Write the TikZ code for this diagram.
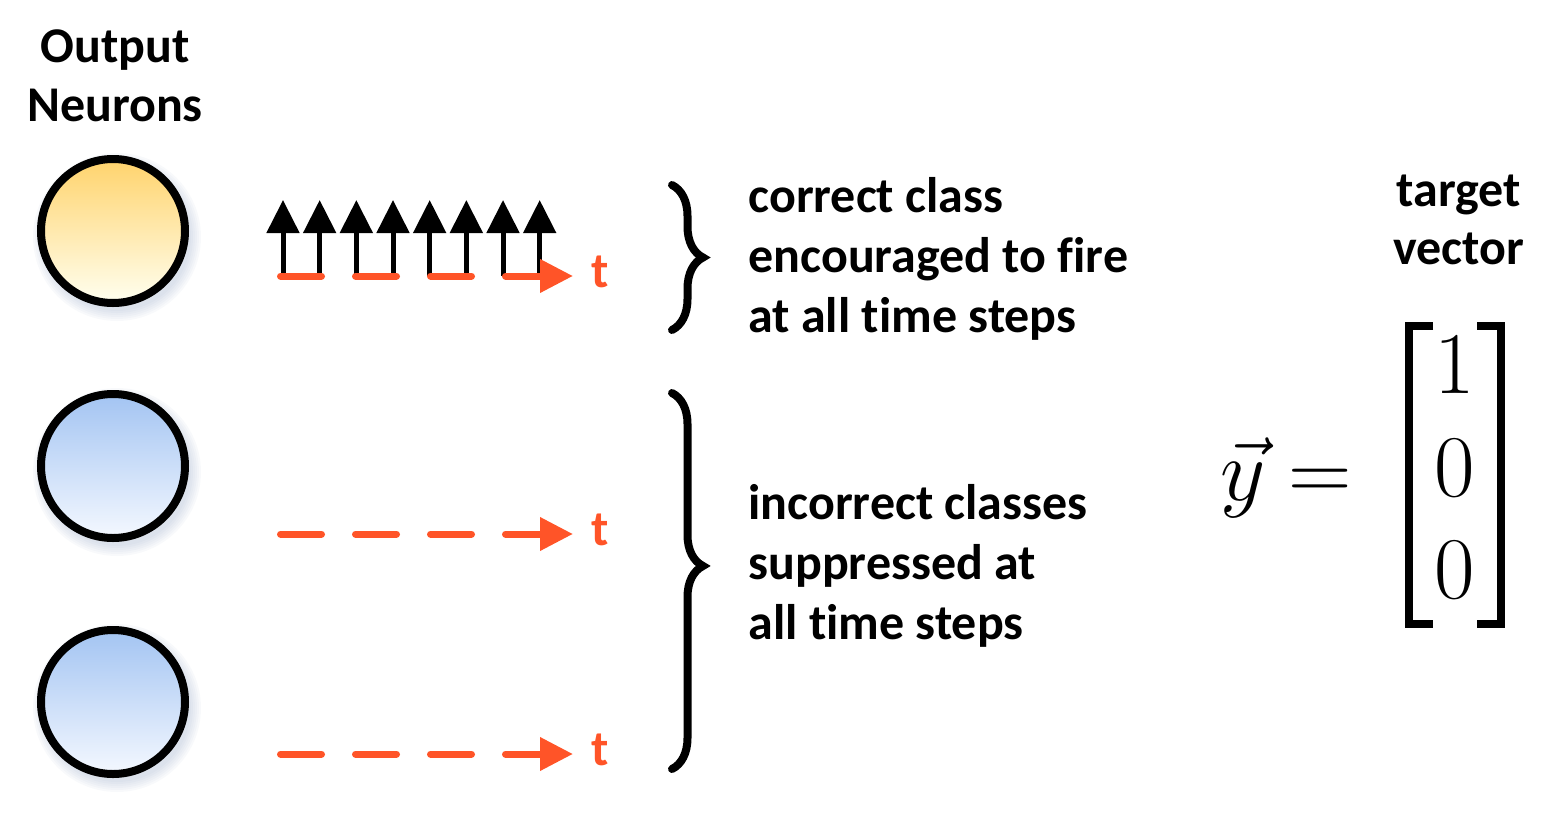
\RequirePackage{fix-cm}
\documentclass[tikz,border=0pt]{standalone}
\usepackage[no-math]{fontspec}
\setmainfont[Ligatures=NoCommon]{Carlito}
\usetikzlibrary{arrows.meta,decorations.pathreplacing}
\definecolor{spike}{HTML}{FF5428}
\definecolor{fireTop}{HTML}{FFD36C}
\definecolor{fireBot}{HTML}{FFFFF0}
\definecolor{coldTop}{HTML}{A3C4F2}
\definecolor{coldBot}{HTML}{F4F8FF}
\definecolor{glow}{HTML}{7F93B8}

\begin{document}
\begin{tikzpicture}[x=0.5pt,y=-0.5pt,
    lbl/.style={font=\fontsize{25}{30}\selectfont\bfseries, inner sep=0pt},
    neuron/.style={circle, draw=black, line width=4pt, minimum size=72pt, inner sep=0pt, shading angle=20},
    spk/.style={line width=2.5pt, -{Triangle[width=16pt,length=16.5pt]}},
    timeline/.style={spike, line width=3.5pt, line cap=round, dash pattern=on 20.5pt off 17pt,
        -{Triangle[width=16pt,length=16.5pt]}},
    brc/.style={decorate, line width=4pt, line cap=round},
    eq/.style={font=\fontsize{44}{50}\selectfont, inner sep=0pt}]

    \useasboundingbox (0,0) rectangle (1559,831);

    % output neurons (soft shadow first)
    \foreach \name/\yy/\col in {n1/231/fire, n2/466/cold, n3/702/cold} {
        \foreach \k in {0,...,5}
            \fill[glow, opacity=0.05] (117,\yy+6) circle ({37pt+\k*1pt});
        \node[neuron, top color=\col Top, bottom color=\col Bot] (\name) at (113,\yy) {};
    }
    \node[lbl, anchor=base] (hd1) at (115,62) {Output};
    \node[lbl, anchor=base] (hd2) at (115,121) {Neurons};

    % spikes of the correct class
    \foreach \i in {0,...,7}
        \draw[spk] (283+36.67*\i,276) -- ++(0,-76);

    % time axes
    \foreach \row/\yy in {1/276, 2/534, 3/754} {
        \coordinate (s\row) at (280.5,\yy);
        \coordinate (e\row) at (573,\yy);
        \draw[timeline] (s\row) -- (e\row);
        \node[lbl, text=spike, anchor=base west] (t\row) at (591,\yy+11) {t};
    }

    % braces
    \coordinate (b1a) at (672,185);
    \coordinate (b1b) at (672,330);
    \coordinate (b2a) at (672,393);
    \coordinate (b2b) at (672,769);
    \draw[brc, decoration={brace, amplitude=15.5pt}] (b1a) -- (b1b);
    \draw[brc, decoration={brace, amplitude=15.5pt, aspect=0.46}] (b2a) -- (b2b);

    \node[lbl, anchor=base west] (c1) at (748,212) {correct class};
    \node[lbl, anchor=base west] (c2) at (748,272) {encouraged to fire};
    \node[lbl, anchor=base west] (c3) at (748,332) {at all time steps};
    \node[lbl, anchor=base west] (w1) at (748,519) {incorrect classes};
    \node[lbl, anchor=base west] (w2) at (748,579) {suppressed at};
    \node[lbl, anchor=base west] (w3) at (748,639) {all time steps};

    % target vector
    \node[lbl, anchor=base] (tg1) at (1459,206) {target};
    \node[lbl, anchor=base] (tg2) at (1459,264) {vector};
    \node[eq, anchor=base] (vy) at (1243,500) {$\vec{y}$};
    \node[eq, anchor=base] (eqs) at (1320,500) {$=$};
    \node[eq, anchor=base] (m1) at (1455,393) {$1$};
    \node[eq, anchor=base] (m2) at (1455,496) {$0$};
    \node[eq, anchor=base] (m3) at (1455,598) {$0$};
    \coordinate (lt) at (1409,326);
    \coordinate (lb) at (1409,624);
    \coordinate (rt) at (1501,326);
    \coordinate (rb) at (1501,624);
    \draw[line width=4pt] ([xshift=12pt]lt) -- (lt) -- (lb) -- ([xshift=12pt]lb);
    \draw[line width=4pt] ([xshift=-12pt]rt) -- (rt) -- (rb) -- ([xshift=-12pt]rb);
\end{tikzpicture}
\end{document}
